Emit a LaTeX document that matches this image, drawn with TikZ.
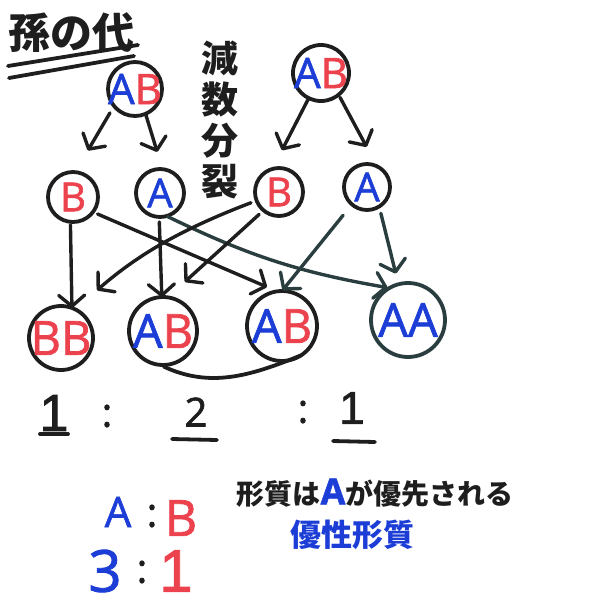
\documentclass[tikz,border=0pt]{standalone}
\usepackage{fontspec}
\setmainfont{Noto Sans CJK JP}
\newfontfamily\latinpen{Open Sans}[RawFeature={embolden=1.5}]
\newfontfamily\digitpen{Liberation Sans}[RawFeature={embolden=1.5}]
\usetikzlibrary{arrows.meta}
\definecolor{inkblue}{RGB}{28,62,214}
\definecolor{inkred}{RGB}{236,66,78}
\definecolor{ink}{RGB}{30,30,30}
\definecolor{slate}{RGB}{42,62,64}
% marker-like Latin letters, Japanese in bold
\newcommand{\pxfont}[1]{\fontsize{#1}{#1}\selectfont\latinpen}
\newcommand{\onefont}[1]{\fontsize{#1}{#1}\selectfont\digitpen}
\newcommand{\jpfont}[1]{\fontsize{#1}{#1}\selectfont\bfseries}
\newcommand{\bl}[1]{\textcolor{inkblue}{#1}}
\newcommand{\rd}[1]{\textcolor{inkred}{#1}}
\begin{document}
\begin{tikzpicture}[x=1pt,y=-1pt,
  ring/.style={circle, draw=ink, line width=3.8pt, inner sep=0pt, outer sep=0pt, minimum size={2*#1}},
  lbl/.style={inner sep=0pt, font=\pxfont{#1}},
  arr/.style={draw=ink, line width=3.4pt, line cap=round,
    -{Straight Barb[length=11pt,width=26pt,round]}},
  pen/.style={draw=ink, line width=3.8pt, line cap=round},
  txt/.style={inner sep=0pt, text=ink, font=\pxfont{#1}},
  one/.style={inner sep=0pt, font=\onefont{#1}},
  jtxt/.style={inner sep=0pt, text=ink, font=\jpfont{#1}}]
\useasboundingbox (0,0) rectangle (600,603);

% heading with double underline
\node[jtxt=42] (title) at (72,33) {孫の代};
\draw[pen] (8,66) -- (138,45);
\draw[pen] (9,78) -- (134,56);

% vertical caption
\node[inner sep=0pt, text=ink, align=center, font=\fontsize{37}{41}\selectfont\bfseries] (meiosis) at (220,120) {減\\数\\分\\裂};

% parents
\node[ring=27, label={[lbl=42, name=p1t]center:\bl{A}\rd{B}}] (p1) at (135,89) {};
\node[ring=28, label={[lbl=42, name=p2t]center:\bl{A}\rd{B}}] (p2) at (321,73) {};

% gametes
\node[ring=25, label={[lbl=40, name=g1t]center:\rd{B}}] (g1) at (73,197) {};
\node[ring=24, label={[lbl=40, name=g2t]center:\bl{A}}] (g2) at (160,193) {};
\node[ring=24, label={[lbl=40, name=g3t]center:\rd{B}}] (g3) at (279,192) {};
\node[ring=23, label={[lbl=40, name=g4t]center:\bl{A}}] (g4) at (367,187) {};

% offspring
\node[ring=32, label={[lbl=47, name=c1t]center:\rd{BB}}] (c1) at (61,338) {};
\node[ring=34, label={[lbl=47, name=c2t]center:\bl{A}\rd{B}}] (c2) at (163,331) {};
\node[ring=35, label={[lbl=47, name=c3t]center:\bl{A}\rd{B}}] (c3) at (282,326) {};
\node[ring=37, draw=slate, label={[lbl=47, name=c4t]center:\bl{AA}}] (c4) at (408,320) {};

% parents to gametes
\draw[arr, shorten <=8pt, shorten >=25pt] (p1.219) -- (g1.85);
\draw[arr, shorten >=18pt] (p1.293) -- (g2.84);
\draw[arr, shorten <=2pt, shorten >=21pt] (p2.244) -- (g3.106);
\draw[arr, shorten <=3pt, shorten >=22pt] (p2.309) -- (g4.64);

% gametes to offspring
\draw[arr, shorten <=3pt] (g1.264) -- (c1.70);
\draw[arr, shorten <=5pt, shorten >=11pt] (g1.323) -- (c3.98);
\draw[arr, shorten <=5pt] (g2.268) -- (c2.92);
\draw[arr, draw=slate, shorten <=1pt, shorten >=2pt] (g2.286) to[bend right=8] (c4.120);
\draw[arr, shorten <=6pt, shorten >=29pt] (g3.201) to[bend right=10] (c1.64);
\draw[arr, shorten <=6pt, shorten >=23pt] (g3.230) -- (c2.82);
\draw[arr, draw=slate, shorten <=14pt, shorten >=1pt] (g4.229) -- (c3.90);
\draw[arr, draw=slate, shorten <=7pt, shorten >=11pt] (g4.302) -- (c4.105);

% the two AB together
\draw[pen, shorten <=4pt] (c2.265) to[out=-25,in=-158] (c3.303);

% ratio 1 : 2 : 1
\node[one=52, text=ink] (r1) at (54,413) {1};
\node[txt=40] (rc1) at (107,416) {:};
\node[txt=40] (r2) at (196,412) {2};
\node[txt=40] (rc2) at (303,412) {:};
\node[one=46, text=ink] (r3) at (352,408) {1};
\draw[pen] (40,434) -- (68,434);
\draw[pen] (172,439) -- (217,440);
\draw[pen] (333,441) -- (375,442);

% phenotype ratio
\node[lbl=42] (ra) at (118,512) {\bl{A}};
\node[txt=40] (rac) at (152,516) {:};
\node[lbl=50] (rb) at (181,518) {\rd{B}};
\node[lbl=58] (n3) at (105,571) {\bl{3}};
\node[txt=40] (nc) at (142,572) {:};
\node[one=60, text=inkred] (n1) at (176,571) {1};

% notes
\node[jtxt=28] (note) at (375,493) {形質は\bl{\pxfont{36}A}が優先される};
\node[inner sep=0pt, text=inkblue, font=\jpfont{31}] (dom) at (352,535) {優性形質};
\end{tikzpicture}
\end{document}
